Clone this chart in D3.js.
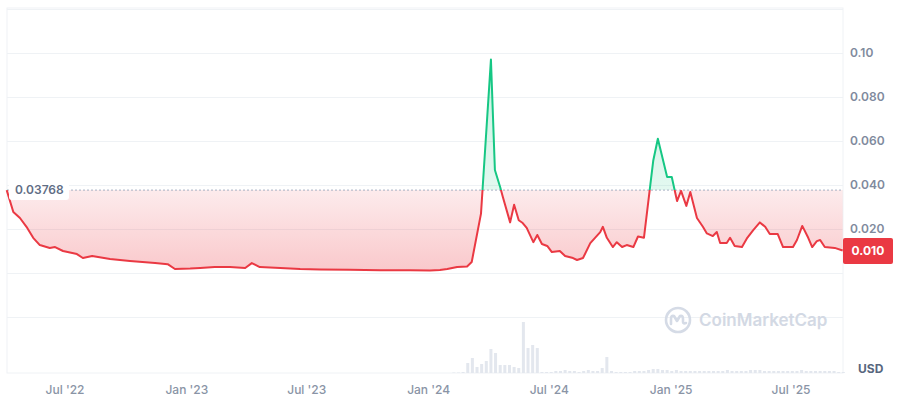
<!DOCTYPE html>
<html><head><meta charset="utf-8">
<script src="https://cdn.jsdelivr.net/npm/d3@7"></script>
<style>
html,body{margin:0;padding:0;background:#fff;}
svg{display:block;font-family:Inter,"Noto Sans",sans-serif;}
</style></head>
<body><svg id="c" width="900" height="400"></svg>
<script>
const priceDates = ["2022-04-04","2022-04-14","2022-04-24","2022-05-05","2022-05-14","2022-05-24","2022-06-08","2022-06-16","2022-06-28","2022-07-19","2022-07-28","2022-08-11","2022-09-07","2022-10-07","2022-11-14","2022-12-03","2022-12-14","2023-01-06","2023-01-21","2023-02-12","2023-03-07","2023-03-30","2023-04-09","2023-04-21","2023-05-22","2023-06-21","2023-07-21","2023-09-04","2023-10-20","2023-12-04","2024-01-03","2024-01-18","2024-01-29","2024-02-13","2024-02-28","2024-03-06","2024-03-20","2024-04-04","2024-04-10","2024-04-18","2024-04-22","2024-05-03","2024-05-09","2024-05-16","2024-05-22","2024-05-28","2024-06-07","2024-06-13","2024-06-20","2024-06-28","2024-07-05","2024-07-17","2024-07-25","2024-08-06","2024-08-12","2024-08-21","2024-09-01","2024-09-16","2024-09-20","2024-09-26","2024-10-05","2024-10-11","2024-10-19","2024-10-26","2024-11-05","2024-11-12","2024-11-21","2024-12-05","2024-12-12","2024-12-26","2025-01-02","2025-01-10","2025-01-16","2025-01-24","2025-01-30","2025-02-09","2025-02-18","2025-02-24","2025-03-05","2025-03-11","2025-03-16","2025-03-26","2025-03-31","2025-04-07","2025-04-18","2025-04-26","2025-05-05","2025-05-15","2025-05-23","2025-05-30","2025-06-11","2025-06-19","2025-07-04","2025-07-10","2025-07-18","2025-07-27","2025-08-02","2025-08-09","2025-08-14","2025-08-21","2025-09-05","2025-09-17"];
const priceValues = [0.03768,0.0277,0.025,0.0205,0.016,0.0127,0.0114,0.0118,0.010,0.0086,0.0068,0.0077,0.0064,0.0055,0.0045,0.004,0.0018,0.002,0.0023,0.0027,0.0027,0.0023,0.0045,0.0027,0.0023,0.0018,0.0016,0.0015,0.0013,0.0012,0.0011,0.0014,0.0018,0.0027,0.003,0.005,0.027,0.097,0.0468,0.039,0.0345,0.023,0.031,0.024,0.0227,0.0205,0.014,0.0173,0.0132,0.0123,0.0095,0.010,0.0077,0.0068,0.0059,0.0068,0.0136,0.0186,0.021,0.016,0.0118,0.014,0.0118,0.0127,0.0118,0.0166,0.016,0.051,0.061,0.0436,0.0436,0.0327,0.0373,0.0305,0.0368,0.025,0.021,0.018,0.0168,0.0186,0.0136,0.0136,0.016,0.0123,0.0118,0.016,0.0195,0.023,0.021,0.0177,0.0177,0.0118,0.0118,0.015,0.0214,0.016,0.0118,0.0145,0.015,0.0118,0.0114,0.0102];
const openPrice = 0.03768;
const lastPrice = 0.010;
const volumeStart = "2024-02-08";
const volumeValues = [0.5,0.5,1,10,15,6,9,12,24,20,8,8,8,6,5,51,25,28,25,1,1,1,2,2,3,2,2,1,2,3,2,2,5,16,2,1,1,1,1,2,2,2,3,4,4,3,3,2,3,2,2,2,2,2,2,2,2,2,2,3,2,2,2,2,3,3,3,2,2,2,2,2,2,2,2,3,2,2,2,2,2,2,2,1,1];
const yTickValues = [0.02,0.04,0.06,0.08,0.10];
const yTickLabels = ["0.020","0.040","0.060","0.080","0.10"];
const gridValues = [-0.02,0,0.02,0.04,0.06,0.08,0.10,0.12];
const xTickDates = ["2022-07-01","2023-01-01","2023-07-01","2024-01-01","2024-07-01","2025-01-01","2025-07-01"];
const xTickLabels = ["Jul '22","Jan '23","Jul '23","Jan '24","Jul '24","Jan '25","Jul '25"];

const parse = d3.timeParse("%Y-%m-%d");
const data = priceDates.map((d,i)=>({date:parse(d), v:priceValues[i]}));
const vol = volumeValues.map((v,i)=>({date:d3.timeDay.offset(parse(volumeStart), 7*i), v}));

const L = 7, R = 843, T = 8, B = 373;
const x = d3.scaleTime().domain([parse("2022-07-01"), parse("2025-07-01")]).range([65, 791]);
const y = d3.scaleLinear().domain([0, 0.1]).range([273, 53]);
const yv = d3.scaleLinear().domain([0, 60]).range([B, B-60]);

const svg = d3.select("#c");
const defs = svg.append("defs");
const yB = y(openPrice);
defs.append("clipPath").attr("id","above").append("rect").attr("x",0).attr("y",0).attr("width",900).attr("height",yB);
defs.append("clipPath").attr("id","below").append("rect").attr("x",0).attr("y",yB).attr("width",900).attr("height",400-yB);
const gr = defs.append("linearGradient").attr("id","redg").attr("gradientUnits","userSpaceOnUse")
  .attr("x1",0).attr("x2",0).attr("y1",yB).attr("y2",y(0));
gr.append("stop").attr("offset",0).attr("stop-color","#ea3943").attr("stop-opacity",0.1);
gr.append("stop").attr("offset",1).attr("stop-color","#ea3943").attr("stop-opacity",0.28);
const gg = defs.append("linearGradient").attr("id","greeng").attr("gradientUnits","userSpaceOnUse")
  .attr("x1",0).attr("x2",0).attr("y1",y(0.1)).attr("y2",yB);
gg.append("stop").attr("offset",0).attr("stop-color","#16c784").attr("stop-opacity",0.25);
gg.append("stop").attr("offset",1).attr("stop-color","#16c784").attr("stop-opacity",0.12);

// frame
svg.append("rect").attr("x",L).attr("y",T).attr("width",R-L).attr("height",B-T)
  .attr("fill","none").attr("stroke","#eff2f5").attr("stroke-width",1);
// gridlines
svg.append("g").selectAll("line").data(gridValues).join("line")
  .attr("x1",L).attr("x2",R).attr("y1",d=>Math.round(y(d))+0.5).attr("y2",d=>Math.round(y(d))+0.5)
  .attr("stroke","#eff2f5").attr("stroke-width",1);

// watermark
const wm = svg.append("g").attr("transform","translate(678,320)");
wm.append("circle").attr("r",12).attr("fill","none").attr("stroke","#d5dbe6").attr("stroke-width",2.6);
wm.append("path").attr("d","M-7,4 L-7,-1 Q-7,-5 -4,-4 L-1,1 L2,-4 Q5,-5 5,-1 L5,2 Q5,4 8,3")
  .attr("fill","none").attr("stroke","#d5dbe6").attr("stroke-width",2.6).attr("stroke-linecap","round").attr("stroke-linejoin","round");
svg.append("text").attr("x",699).attr("y",326).attr("font-size",17).attr("font-weight",600)
  .attr("fill","#d3d9e4").text("CoinMarketCap");

// volume
svg.append("g").selectAll("rect").data(vol).join("rect")
  .attr("x",d=>x(d.date)-1.5).attr("width",3)
  .attr("y",d=>yv(d.v)).attr("height",d=>B-yv(d.v))
  .attr("fill","#e3e7ee");

// area fills
const area = d3.area().x(d=>x(d.date)).y0(yB).y1(d=>y(d.v));
svg.append("path").datum(data).attr("d",area).attr("fill","url(#greeng)").attr("clip-path","url(#above)");
svg.append("path").datum(data).attr("d",area).attr("fill","url(#redg)").attr("clip-path","url(#below)");

// baseline dashed
svg.append("line").attr("x1",L).attr("x2",R).attr("y1",yB).attr("y2",yB)
  .attr("stroke","#a6b0c3").attr("stroke-width",1).attr("stroke-dasharray","2,2");

// lines
const line = d3.line().x(d=>x(d.date)).y(d=>y(d.v));
svg.append("path").datum(data).attr("d",line).attr("fill","none").attr("stroke","#16c784").attr("stroke-width",2).attr("stroke-linejoin","round").attr("clip-path","url(#above)");
svg.append("path").datum(data).attr("d",line).attr("fill","none").attr("stroke","#ea3943").attr("stroke-width",2).attr("stroke-linejoin","round").attr("clip-path","url(#below)");

// open price label
svg.append("rect").attr("x",9).attr("y",yB-8).attr("width",60).attr("height",18).attr("rx",3).attr("fill","#fff");
svg.append("text").attr("x",15).attr("y",yB+4).attr("font-size",12).attr("font-weight",600).attr("fill","#616e85").text("0.03768");

// y axis labels
svg.append("g").selectAll("text").data(yTickValues).join("text")
  .attr("x",850).attr("y",d=>y(d)+4).attr("font-size",12).attr("font-weight",600).attr("fill","#808a9d")
  .text((d,i)=>yTickLabels[i]);
// current price badge
const yl = y(lastPrice);
svg.append("rect").attr("x",843).attr("y",yl-13).attr("width",50).attr("height",26).attr("rx",2).attr("fill","#ea3943");
svg.append("text").attr("x",868).attr("y",yl+4).attr("text-anchor","middle").attr("font-size",12).attr("font-weight",700).attr("fill","#fff").text("0.010");
// USD
svg.append("text").attr("x",858).attr("y",373).attr("font-size",12).attr("font-weight",700).attr("fill","#58667e").text("USD");

// x axis labels
svg.append("g").selectAll("text").data(xTickDates).join("text")
  .attr("x",d=>x(parse(d))).attr("y",394).attr("text-anchor","middle").attr("font-size",12).attr("font-weight",500).attr("fill","#8a94a6")
  .text((d,i)=>xTickLabels[i]);
</script></body></html>
